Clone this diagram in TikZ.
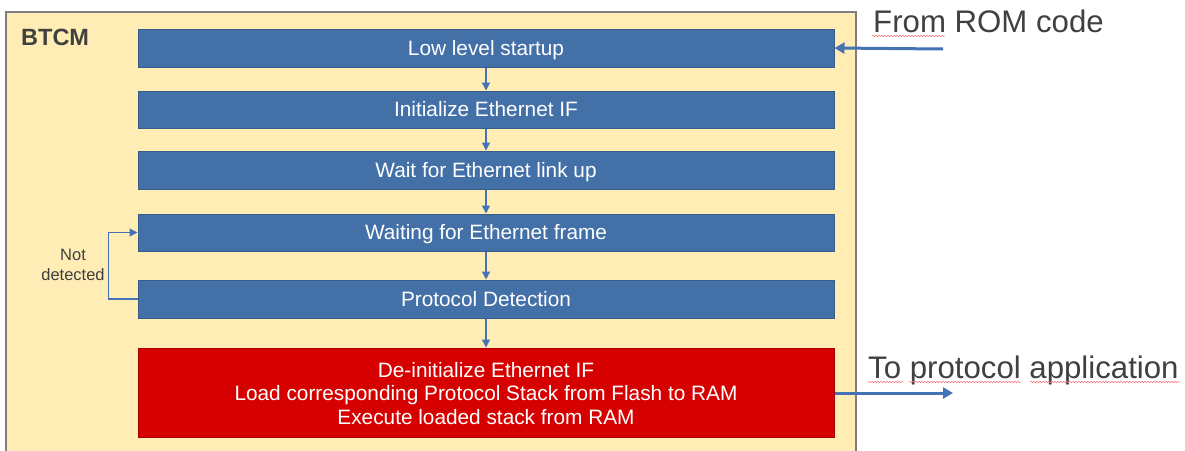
\documentclass[tikz,border=0pt]{standalone}
\usepackage{fontspec}
\setmainfont{Liberation Sans}
\usetikzlibrary{arrows.meta,decorations.pathmorphing}
\definecolor{boxblue}{HTML}{4470A8}
\definecolor{boxborder}{HTML}{385D8A}
\definecolor{arrblue}{HTML}{4472B4}
\definecolor{boxred}{HTML}{D60000}
\definecolor{redborder}{HTML}{A80000}
\definecolor{bgyellow}{HTML}{FFEDB5}
\definecolor{framegray}{HTML}{7F7F7F}
\definecolor{txtgray}{HTML}{404040}
\tikzset{
  stepbox/.style={draw=boxborder, line width=1pt, fill=boxblue, text=white,
    minimum width=696pt, inner sep=0pt, text height=14.9pt, text depth=0pt,
    font=\fontsize{20.8}{24}\selectfont},
  redbox/.style={draw=redborder, line width=1pt, fill=boxred, text=white,
    minimum width=696pt, minimum height=89pt, inner sep=0pt, align=center,
    font=\fontsize{20.8}{23.3}\selectfont},
  flow/.style={draw=arrblue, line width=3pt, -{Triangle[width=11pt,length=10pt]}},
  thinflow/.style={draw=arrblue, line width=1.4pt, -{Triangle[width=8pt,length=8pt]}},
  side/.style={text=txtgray, font=\fontsize{31.2}{34}\selectfont, anchor=base west, inner sep=0pt},
  squiggle/.style={draw=red!55, line width=0.5pt, decorate,
    decoration={snake, amplitude=0.7pt, segment length=3pt}}
}
\begin{document}
\begin{tikzpicture}[x=1pt,y=-1pt]
\useasboundingbox (0,0) rectangle (1185,450);
\begin{scope}
\clip (0,0) rectangle (1185,450);
\filldraw[fill=bgyellow, draw=framegray, line width=1.2pt] (6,470) -- (6,12) -- (856,12) -- (856,470);
\end{scope}
\node[anchor=base west, inner sep=0pt, text=txtgray, font=\fontsize{23.5}{26}\selectfont\bfseries] (btcm) at (21,45) {BTCM};
\node[stepbox, minimum height=38pt] (b1) at (486,48) {Low level startup};
\node[stepbox, minimum height=37pt] (b2) at (486,109.5) {Initialize Ethernet IF};
\node[stepbox, minimum height=38pt] (b3) at (486,170) {Wait for Ethernet link up};
\node[stepbox, minimum height=37pt] (b4) at (486,232.5) {Waiting for Ethernet frame};
\node[stepbox, minimum height=38pt] (b5) at (486,299) {Protocol Detection};
\node[redbox] (b6) at (486,392.5) {\rule{0pt}{17pt}De-initialize Ethernet IF\\Load corresponding Protocol Stack from Flash to RAM\\Execute loaded stack from RAM};
\draw[thinflow] (b1.south) -- (b2.north);
\draw[thinflow] (b2.south) -- (b3.north);
\draw[thinflow] (b3.south) -- (b4.north);
\draw[thinflow] (b4.south) -- (b5.north);
\draw[thinflow] (b5.south) -- (b6.north);
\draw[thinflow] (b5.west) -- ++(-29,0) |- (b4.west);
\node[align=center, text=txtgray, font=\fontsize{16.5}{20}\selectfont, inner sep=0pt] (nd) at (73,265) {Not\\detected};
\coordinate (rom) at (943,49);
\draw[flow] (rom) -- (b1.east);
\coordinate (app) at (953,393);
\draw[flow] (b6.east |- app) -- (app);
\node[side] (fromrom) at (873,32) {From ROM code};
\node[side] (toapp) at (868,378) {To protocol application};
\draw[squiggle] (872,36) -- (945,36);
\draw[squiggle] (868,382) -- (903,382);
\draw[squiggle] (909,382) -- (1021,382);
\draw[squiggle] (1030,382) -- (1180,382);
\end{tikzpicture}
\end{document}
